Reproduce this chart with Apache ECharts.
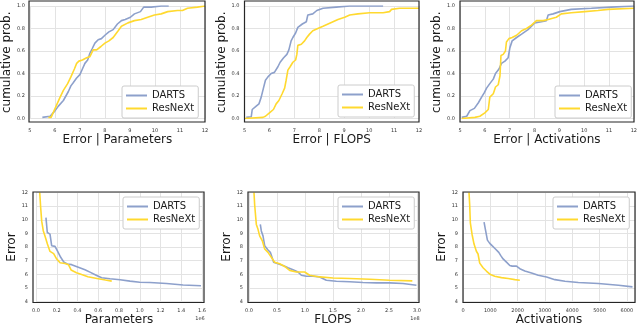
<!DOCTYPE html>
<html>
<head>
<meta charset="utf-8">
<script src="https://cdn.jsdelivr.net/npm/echarts@6.0.0/dist/echarts.min.js"></script>
<style>
html, body { margin: 0; padding: 0; background: #fff; }
#main { width: 640px; height: 327px; }
</style>
</head>
<body>
<div id="main"></div>
<script>
var dartsColor = '#8da0cb';
var resnextColor = '#ffd92f';
var seriesNames = ['DARTS', 'ResNeXt'];

// top row: empirical CDF of the error, [error, cumulative prob.]
var dartsCdfParams = [[5.50,0.01],[5.81,0.02],[6.01,0.07],[6.14,0.11],[6.34,0.16],[6.54,0.24],[6.64,0.29],[6.74,0.32],[6.87,0.36],[7.0,0.39],[7.1,0.44],[7.2,0.49],[7.31,0.52],[7.4,0.58],[7.49,0.62],[7.6,0.67],[7.73,0.70],[7.86,0.71],[8.0,0.74],[8.16,0.77],[8.33,0.79],[8.5,0.84],[8.66,0.87],[8.81,0.88],[9.02,0.90],[9.18,0.93],[9.42,0.95],[9.55,0.99],[9.85,0.99],[10.25,1.0],[10.55,1.0]];
var resnextCdfParams = [[5.74,0.01],[5.85,0.01],[6.01,0.09],[6.21,0.19],[6.34,0.25],[6.51,0.31],[6.64,0.37],[6.78,0.44],[6.87,0.49],[6.96,0.51],[7.1,0.52],[7.27,0.54],[7.4,0.55],[7.53,0.61],[7.67,0.61],[7.84,0.64],[8.0,0.67],[8.16,0.69],[8.33,0.72],[8.53,0.78],[8.66,0.82],[8.92,0.85],[9.18,0.87],[9.45,0.88],[9.71,0.90],[9.98,0.92],[10.25,0.93],[10.51,0.95],[10.9,0.96],[11.1,0.96],[11.3,0.98],[11.7,0.99],[12.0,1.0]];

var dartsCdfFlops = [[5.07,0.01],[5.27,0.015],[5.31,0.08],[5.47,0.11],[5.58,0.13],[5.67,0.19],[5.76,0.27],[5.84,0.34],[5.94,0.37],[6.07,0.40],[6.2,0.41],[6.34,0.46],[6.43,0.5],[6.57,0.54],[6.7,0.57],[6.78,0.61],[6.87,0.69],[6.94,0.72],[7.05,0.76],[7.14,0.81],[7.32,0.84],[7.48,0.86],[7.54,0.92],[7.74,0.93],[7.9,0.96],[8.15,0.98],[8.68,0.99],[9.22,1.0],[10.56,1.0]];
var resnextCdfFlops = [[5.0,0.0],[5.74,0.01],[5.84,0.02],[6.0,0.05],[6.16,0.08],[6.27,0.13],[6.38,0.16],[6.51,0.22],[6.61,0.27],[6.67,0.34],[6.74,0.43],[6.83,0.46],[6.94,0.5],[7.05,0.52],[7.1,0.57],[7.14,0.65],[7.28,0.66],[7.41,0.69],[7.5,0.72],[7.61,0.75],[7.74,0.78],[7.94,0.80],[8.15,0.82],[8.35,0.84],[8.55,0.86],[8.75,0.88],[9.02,0.90],[9.22,0.92],[9.55,0.93],[10.02,0.94],[10.56,0.94],[10.82,0.95],[10.9,0.97],[11.22,0.98],[12.0,0.98]];

var dartsCdfActs = [[5.07,0.01],[5.27,0.02],[5.4,0.07],[5.58,0.09],[5.74,0.14],[5.87,0.19],[5.98,0.23],[6.07,0.27],[6.2,0.31],[6.34,0.35],[6.43,0.4],[6.57,0.44],[6.67,0.49],[6.81,0.51],[6.94,0.54],[7.01,0.63],[7.1,0.69],[7.28,0.72],[7.48,0.75],[7.74,0.79],[8.01,0.85],[8.28,0.86],[8.48,0.87],[8.55,0.92],[8.75,0.93],[9.02,0.95],[9.48,0.97],[10.29,0.98],[11.09,0.99],[12.0,1.0]];
var resnextCdfActs = [[5.07,0.0],[5.6,0.01],[5.8,0.02],[6.0,0.05],[6.14,0.08],[6.2,0.19],[6.34,0.22],[6.43,0.28],[6.54,0.3],[6.61,0.38],[6.65,0.56],[6.74,0.57],[6.83,0.60],[6.87,0.68],[6.97,0.71],[7.1,0.72],[7.28,0.74],[7.48,0.78],[7.68,0.80],[7.88,0.83],[8.08,0.87],[8.35,0.87],[8.55,0.88],[8.88,0.90],[9.08,0.93],[9.48,0.94],[10.02,0.95],[10.56,0.96],[10.96,0.97],[12.0,0.98]];

// bottom row: error vs size, [size, error]; params in 1e6, flops in 1e8
var dartsErrParams = [[0.096,10.16],[0.109,9.07],[0.135,8.95],[0.151,8.1],[0.183,8.05],[0.205,7.73],[0.238,7.25],[0.27,6.88],[0.302,6.76],[0.344,6.71],[0.408,6.52],[0.472,6.33],[0.52,6.16],[0.585,5.91],[0.633,5.75],[0.713,5.67],[0.81,5.6],[0.906,5.5],[1.0,5.42],[1.098,5.4],[1.258,5.33],[1.418,5.22],[1.59,5.16]];
var resnextErrParams = [[0.036,12.0],[0.045,10.9],[0.055,9.9],[0.07,9.2],[0.085,8.85],[0.11,8.22],[0.135,7.68],[0.17,7.52],[0.197,7.15],[0.232,6.85],[0.28,6.79],[0.314,6.7],[0.338,6.32],[0.39,6.12],[0.44,5.98],[0.5,5.82],[0.6,5.68],[0.67,5.58],[0.73,5.5]];

var dartsErrFlops = [[0.202,9.66],[0.22,9.18],[0.25,8.82],[0.28,8.1],[0.339,7.78],[0.381,7.61],[0.44,6.89],[0.518,6.77],[0.607,6.65],[0.696,6.48],[0.786,6.34],[0.875,6.17],[0.935,5.93],[1.024,5.86],[1.143,5.86],[1.262,5.81],[1.381,5.57],[1.56,5.49],[1.798,5.45],[2.036,5.40],[2.274,5.37],[2.51,5.37],[2.75,5.33],[2.99,5.2]];
var resnextErrFlops = [[0.089,12.0],[0.101,11.1],[0.131,9.66],[0.161,9.3],[0.19,8.82],[0.238,8.46],[0.28,7.86],[0.339,7.61],[0.399,7.25],[0.458,6.89],[0.548,6.77],[0.637,6.58],[0.726,6.29],[0.845,6.17],[0.994,6.17],[1.083,5.93],[1.262,5.81],[1.5,5.73],[1.798,5.69],[2.155,5.64],[2.51,5.57],[2.917,5.52]];

var dartsErrActs = [[771,9.83],[820,9.3],[894,8.51],[980,8.27],[1065,8.1],[1188,7.86],[1310,7.61],[1384,7.37],[1469,7.13],[1592,6.89],[1714,6.65],[1800,6.6],[1959,6.6],[2082,6.41],[2265,6.24],[2510,6.1],[2755,5.93],[3061,5.81],[3367,5.61],[3735,5.49],[4224,5.40],[4959,5.33],[5694,5.2],[6208,5.08]];
var resnextErrActs = [[220,12.0],[245,11.1],[269,9.78],[331,8.94],[404,8.22],[490,7.69],[551,7.49],[612,6.82],[735,6.48],[857,6.24],[1004,5.98],[1163,5.86],[1408,5.76],[1653,5.69],[1898,5.61],[2082,5.57]];

var fontFamily = 'DejaVu Sans';

// layout: grid = [x0, y0, x1, y1], frame = [x0, y0, x1, y1]
var panels = [
  {xName: 'Error | Parameters', yName: 'cumulative prob.', grid: [29, 6, 205, 118.5], frame: [29, 1, 205, 122],
   x: {min: 5, max: 12, interval: 1}, y: {min: 0, max: 1, interval: 0.2, dec: 1},
   data: [dartsCdfParams, resnextCdfParams], legend: [122, 86], xGap: 15.5, xMargin: 9.5},
  {xName: 'Error | FLOPS', yName: 'cumulative prob.', grid: [244.5, 6, 419, 118.5], frame: [244.5, 1, 419, 122],
   x: {min: 5, max: 12, interval: 1}, y: {min: 0, max: 1, interval: 0.2, dec: 1},
   data: [dartsCdfFlops, resnextCdfFlops], legend: [338, 85], xGap: 15.5, xMargin: 9.5},
  {xName: 'Error | Activations', yName: 'cumulative prob.', grid: [460, 6, 634, 118.5], frame: [460, 1, 634, 122],
   x: {min: 5, max: 12, interval: 1}, y: {min: 0, max: 1, interval: 0.2, dec: 1},
   data: [dartsCdfActs, resnextCdfActs], legend: [555, 86], xGap: 15.5, xMargin: 9.5},
  {xName: 'Parameters', yName: 'Error', grid: [36, 192.5, 202, 302.5], frame: [33, 192, 204, 302.5],
   x: {min: 0, max: 1.6, interval: 0.2, dec: 1}, y: {min: 4, max: 12, interval: 1},
   data: [dartsErrParams, resnextErrParams], legend: [123, 197], xGap: 12, xMargin: 6.5, offsetText: '1e6'},
  {xName: 'FLOPS', yName: 'Error', grid: [249, 192.5, 417, 302.5], frame: [248, 192, 419, 302.5],
   x: {min: 0, max: 3, interval: 0.5, dec: 1}, y: {min: 4, max: 12, interval: 1},
   data: [dartsErrFlops, resnextErrFlops], legend: [338, 197], xGap: 12, xMargin: 6.5, offsetText: '1e8'},
  {xName: 'Activations', yName: 'Error', grid: [463, 192.5, 635, 302.5], frame: [463, 192, 635, 302.5],
   x: {min: 0, max: 6300, interval: 1000, hideMax: true}, y: {min: 4, max: 12, interval: 1},
   data: [dartsErrActs, resnextErrActs], legend: [553, 197], xGap: 12, xMargin: 6.5}
];

var chart = echarts.init(document.getElementById('main'), null, {renderer: 'canvas', devicePixelRatio: 1});

var grids = [], xAxes = [], yAxes = [], series = [], legends = [], graphics = [];

function fmt(dec) {
  return function (v) { return dec ? v.toFixed(dec) : String(Math.round(v)); };
}

panels.forEach(function (p, i) {
  var shift = p.grid[0] - p.frame[0];
  grids.push({left: p.grid[0], top: p.grid[1], width: p.grid[2] - p.grid[0], height: p.grid[3] - p.grid[1]});
  xAxes.push({
    type: 'value', gridIndex: i, min: p.x.min, max: p.x.max, interval: p.x.interval,
    name: p.xName, nameLocation: 'middle', nameGap: p.xGap,
    nameTextStyle: {fontFamily: fontFamily, fontSize: 12, color: '#1a1a1a', lineHeight: 12, verticalAlign: 'top'},
    axisLine: {show: false}, axisTick: {show: false},
    axisLabel: {fontFamily: fontFamily, fontSize: 5, color: '#333', margin: p.xMargin,
      showMaxLabel: !p.x.hideMax, formatter: fmt(p.x.dec)},
    splitLine: {show: true, lineStyle: {color: '#e3e3e3', width: 1}}
  });
  yAxes.push({
    type: 'value', gridIndex: i, min: p.y.min, max: p.y.max, interval: p.y.interval,
    name: p.yName, nameLocation: 'middle', nameGap: 15.5 + shift,
    nameTextStyle: {fontFamily: fontFamily, fontSize: 12, color: '#1a1a1a', lineHeight: 12},
    axisLine: {show: false}, axisTick: {show: false},
    axisLabel: {fontFamily: fontFamily, fontSize: 5, color: '#333', margin: 5 + shift, formatter: fmt(p.y.dec)},
    splitLine: {show: true, lineStyle: {color: '#e3e3e3', width: 1}}
  });
  [dartsColor, resnextColor].forEach(function (c, k) {
    series.push({
      type: 'line', name: seriesNames[k], xAxisIndex: i, yAxisIndex: i,
      data: p.data[k], showSymbol: false, symbol: 'none', clip: true,
      color: c, lineStyle: {color: c, width: 1.6}, z: 3 + k
    });
  });
  legends.push({
    data: seriesNames, orient: 'vertical', left: p.legend[0], top: p.legend[1],
    icon: 'rect', itemWidth: 21, itemHeight: 2, itemGap: 2, padding: 4,
    borderColor: '#cccccc', borderWidth: 1, borderRadius: 2, backgroundColor: '#fff',
    selectedMode: false,
    textStyle: {fontFamily: fontFamily, fontSize: 10, color: '#1a1a1a', lineHeight: 11}
  });
  graphics.push({
    type: 'rect', silent: true, z: 10,
    shape: {x: p.frame[0], y: p.frame[1], width: p.frame[2] - p.frame[0], height: p.frame[3] - p.frame[1]},
    style: {fill: 'none', stroke: '#262626', lineWidth: 1.2}
  });
  if (p.offsetText) {
    graphics.push({
      type: 'text', silent: true, z: 10, x: p.frame[2] - 4, y: 319,
      style: {text: p.offsetText, fontFamily: fontFamily, fontSize: 5, fill: '#333',
        align: 'center', verticalAlign: 'middle'}
    });
  }
});

var option = {
  animation: false,
  backgroundColor: '#fff',
  grid: grids,
  xAxis: xAxes,
  yAxis: yAxes,
  legend: legends,
  series: series,
  graphic: graphics
};
chart.setOption(option);
</script>
</body>
</html>
